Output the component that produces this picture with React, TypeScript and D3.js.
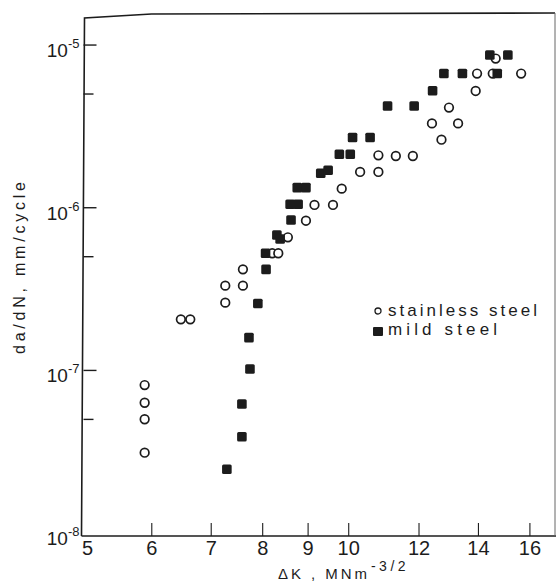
import { useEffect, useRef } from "react";
import * as d3 from "d3";

// ΔK (MNm^-3/2) against da/dN (mm/cycle)
const stainlessK = [
  5.89, 5.89, 5.89, 5.89, 6.47, 6.63, 7.26, 7.26, 7.6, 7.6, 8.2, 8.33, 8.54,
  8.95, 9.15, 9.6, 9.82, 10.3, 10.8, 10.8, 11.3, 11.81, 12.72, 12.41, 13.28,
  12.97, 13.9, 13.95, 14.53, 15.64, 14.64,
];
const stainlessRate = [
  8.13e-8, 6.33e-8, 5.01e-8, 3.12e-8, 2.06e-7, 2.06e-7, 2.61e-7, 3.32e-7,
  3.32e-7, 4.18e-7, 5.25e-7, 5.25e-7, 6.58e-7, 8.32e-7, 1.04e-6, 1.04e-6,
  1.31e-6, 1.66e-6, 1.66e-6, 2.1e-6, 2.08e-6, 2.08e-6, 2.62e-6, 3.3e-6,
  3.3e-6, 4.13e-6, 5.22e-6, 6.68e-6, 6.68e-6, 6.68e-6, 8.26e-6,
];

const mildK = [
  7.29, 7.58, 7.58, 7.74, 7.72, 7.9, 8.07, 8.06, 8.3, 8.37, 8.61, 8.59, 8.77,
  8.75, 8.95, 9.3, 9.48, 9.76, 10.04, 10.1, 10.57, 11.06, 11.85, 12.43, 12.8,
  13.43, 14.7, 14.42, 15.11,
];
const mildRate = [
  2.47e-8, 3.91e-8, 6.22e-8, 1.02e-7, 1.59e-7, 2.58e-7, 4.18e-7, 5.25e-7,
  6.8e-7, 6.42e-7, 8.4e-7, 1.05e-6, 1.05e-6, 1.33e-6, 1.33e-6, 1.63e-6,
  1.7e-6, 2.13e-6, 2.13e-6, 2.7e-6, 2.7e-6, 4.22e-6, 4.22e-6, 5.24e-6,
  6.68e-6, 6.68e-6, 6.68e-6, 8.68e-6, 8.68e-6,
];

const xTicks = [5, 6, 7, 8, 9, 10, 12, 14, 16];
const yMajor = [1e-8, 1e-7, 1e-6, 1e-5];
const yExponents = ["-8", "-7", "-6", "-5"];
const yMinor = [5e-8, 5e-7, 5e-6];

const legendLabels = ["stainless steel", "mild steel"];

const FONT = "'Liberation Sans', Arial, sans-serif";
const INK = "#1c1c1c";

export default function App() {
  const svgRef = useRef<SVGSVGElement>(null);

  useEffect(() => {
    const svg = svgRef.current;
    if (!svg) return;
    const sel = d3.select(svg);
    sel.selectAll("*").remove();

    const x = d3.scaleLog().domain([5, 17.12]).range([81.5, 556]);
    const y = d3.scaleLog().domain([0.96e-8, 1.53e-5]).range([536, 15]);

    const [x0, x1] = x.range();
    const [yB, yT] = y.range();

    // frame
    sel
      .append("path")
      .attr("d", `M${x0},${yB}L${x0 + 3},${yT + 3}L${x0 + 70},${yT - 1}L${x1 - 1},${yT - 2}`)
      .attr("fill", "none")
      .attr("stroke", INK)
      .attr("stroke-width", 1.6);
    sel
      .append("line")
      .attr("x1", x0)
      .attr("x2", x1)
      .attr("y1", yB)
      .attr("y2", yB)
      .attr("stroke", INK)
      .attr("stroke-width", 1.6);
    sel
      .append("line")
      .attr("x1", x1 - 1)
      .attr("x2", x1 - 1)
      .attr("y1", yT - 2)
      .attr("y2", yB)
      .attr("stroke", "#666")
      .attr("stroke-width", 1);

    // x ticks + labels
    sel
      .append("g")
      .selectAll("line")
      .data(xTicks.slice(1))
      .enter()
      .append("line")
      .attr("x1", (d) => x(d))
      .attr("x2", (d) => x(d))
      .attr("y1", yB)
      .attr("y2", yB - 13)
      .attr("stroke", INK)
      .attr("stroke-width", 1.1);
    sel
      .append("g")
      .selectAll("text")
      .data(xTicks)
      .enter()
      .append("text")
      .attr("x", (d) => x(d) + (d === 5 ? 6 : 0))
      .attr("y", yB + 19)
      .attr("text-anchor", "middle")
      .attr("font-family", FONT)
      .attr("font-size", 20)
      .attr("fill", INK)
      .text((d) => String(d));

    // y ticks + labels
    const yTickLen = (major: boolean) => (major ? 13 : 10);
    sel
      .append("g")
      .selectAll("line")
      .data([...yMajor.slice(1), ...yMinor])
      .enter()
      .append("line")
      .attr("x1", x0 + 2)
      .attr("x2", (d) => x0 + 2 + yTickLen(yMajor.includes(d)))
      .attr("y1", (d) => y(d))
      .attr("y2", (d) => y(d))
      .attr("stroke", INK)
      .attr("stroke-width", 1.4);
    const yl = sel
      .append("g")
      .selectAll("text")
      .data(yMajor)
      .enter()
      .append("text")
      .attr("x", x0 - 2)
      .attr("y", (d) => y(d) + 12)
      .attr("text-anchor", "end")
      .attr("font-family", FONT)
      .attr("font-size", 19)
      .attr("fill", INK);
    yl.append("tspan").text("10");
    yl.append("tspan")
      .attr("dy", -9)
      .attr("font-size", 13)
      .text((_d, i) => yExponents[i]);

    // axis titles
    sel
      .append("text")
      .attr("transform", "translate(25,268) rotate(-90)")
      .attr("text-anchor", "middle")
      .attr("font-family", FONT)
      .attr("font-size", 16)
      .attr("fill", INK)
      .attr("textLength", 172)
      .attr("lengthAdjust", "spacing")
      .text("da/dN, mm/cycle");

    const xt = sel
      .append("text")
      .attr("x", 278)
      .attr("y", 579)
      .attr("font-family", FONT)
      .attr("font-size", 15)
      .attr("fill", INK);
    xt.append("tspan")
      .attr("textLength", 89)
      .attr("lengthAdjust", "spacing")
      .text("ΔK , MNm");
    xt.append("tspan")
      .attr("dy", -8)
      .attr("dx", 1)
      .attr("font-size", 14)
      .attr("letter-spacing", 3.5)
      .text("-3/2");

    // data
    const stainless = stainlessK.map((k, i) => ({ k, r: stainlessRate[i] }));
    const mild = mildK.map((k, i) => ({ k, r: mildRate[i] }));

    sel
      .append("g")
      .selectAll("circle")
      .data(stainless)
      .enter()
      .append("circle")
      .attr("cx", (d) => x(d.k))
      .attr("cy", (d) => y(d.r))
      .attr("r", 4.3)
      .attr("fill", "#fff")
      .attr("stroke", INK)
      .attr("stroke-width", 1.7);

    const sq = 9.6;
    sel
      .append("g")
      .selectAll("rect")
      .data(mild)
      .enter()
      .append("rect")
      .attr("x", (d) => x(d.k) - sq / 2)
      .attr("y", (d) => y(d.r) - sq / 2)
      .attr("width", sq)
      .attr("height", sq)
      .attr("rx", 1.5)
      .attr("fill", INK);

    // legend
    const lg = sel.append("g").attr("transform", "translate(378,316)");
    lg.append("circle")
      .attr("cx", 0)
      .attr("cy", -5)
      .attr("r", 3)
      .attr("fill", "#fff")
      .attr("stroke", INK)
      .attr("stroke-width", 1.3);
    lg.append("rect")
      .attr("x", -5)
      .attr("y", 11)
      .attr("width", 10)
      .attr("height", 9)
      .attr("rx", 1)
      .attr("fill", INK);
    lg.selectAll("text")
      .data(legendLabels)
      .enter()
      .append("text")
      .attr("x", 10)
      .attr("y", (_d, i) => i * 19)
      .attr("font-family", FONT)
      .attr("font-size", 17)
      .attr("fill", INK)
      .attr("textLength", (_d, i) => (i === 0 ? 149 : 109))
      .attr("lengthAdjust", "spacing")
      .text((d) => d);
  }, []);

  return (
    <svg
      ref={svgRef}
      width={557}
      height={582}
      style={{ position: "absolute", left: 0, top: 0, background: "#fff" }}
    />
  );
}
